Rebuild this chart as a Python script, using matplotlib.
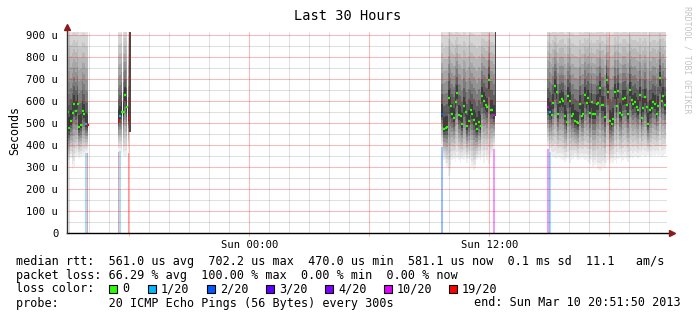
import numpy as np
import matplotlib.pyplot as plt
from matplotlib.patches import Rectangle

W, H = 697, 321
STEP = 5 / 60  # one rrd step (300 s) in hours
MONO = 'DejaVu Sans Mono'

# data segments: start hour (from Sat 14:51:50), median rtt (us), lowest ping (us), lost pings of 20
seg_start = [0.0, 2.545, 18.73, 24.03]
seg_median = [
    [551, 476, 510, 545, 586, 554, 588, 483, 491, 556, 541, 494, 490],
    [514, 532, 551, 551, 627, 574, 524, np.nan],
    [542, 473, 478, 482, 612, 576, 542, 521, 597, 638, 536, 530, 494, 576, 551, 485,
     509, 558, 542, 512, 494, 473, 506, 485, 624, 600, 582, 573, 694, 560, 560, 536, np.nan],
    [573, 551, 536, 590, 668, 642, 542, 597, 609, 600, 533, 503, 624, 600, 533, 539,
     509, 506, 500, 588, 533, 539, 627, 591, 612, 545, 597, 542, 539, 588, 591, 658,
     582, 582, 527, 697, 642, 509, 497, 520, 642, 576, 645, 545, 536, 609, 612, 582,
     542, 652, 606, 588, 597, 575, 560, 627, 524, 570, 618, 573, 494, 560, 567, 597,
     588, 542, 579, 703, 600, 624, 582],
]
seg_low = [
    [335, 330, 340, 290, 300, 345, 350, 340, 345, 352, 350, 362, 365],
    [370, 372, 360, 350, 345, 350, 365, 460],
    [390, 330, 320, 300, 260, 280, 330, 335, 325, 340, 330, 320, 335, 330, 345, 320,
     340, 330, 300, 285, 295, 330, 340, 330, 345, 320, 350, 330, 315, 340, 350, 380, 530],
    [380, 370, 355, 345, 340, 335, 345, 340, 335, 330, 325, 335, 340, 320, 330, 335,
     345, 340, 330, 335, 345, 340, 330, 335, 325, 315, 330, 300, 310, 320, 290, 280,
     285, 300, 295, 320, 330, 315, 325, 320, 330, 315, 335, 340, 325, 330, 340, 335,
     325, 340, 345, 340, 350, 345, 340, 345, 350, 355, 345, 350, 355, 350, 345, 355,
     350, 360, 350, 355, 345, 350, 360],
]
seg_loss = [
    [0] * 11 + [1, 19],
    [19, 1, 0, 0, 0, 0, 19, 0],
    [2] + [0] * 30 + [10, 0],
    [10, 1] + [0] * 69,
]
smoke_top = 1000

loss_levels = [0, 1, 2, 3, 4, 10, 19]
loss_colors = ['#26ff00', '#00b8ff', '#0059ff', '#5e00ff', '#7e00ff', '#dd00ff', '#ff0000']
loss_names = ['0', '1/20', '2/20', '3/20', '4/20', '10/20', '19/20']
loss_box_x = [109, 148, 207, 266, 325, 384, 449]

y_ticks = [0, 100, 200, 300, 400, 500, 600, 700, 800, 900]
y_labels = ['0', '100 u', '200 u', '300 u', '400 u', '500 u', '600 u', '700 u', '800 u', '900 u']
first_hour = 8 / 60 + 10 / 3600   # 15:00 Sat
first_hour_of_day = 15
x_ticks = [9.136, 21.136]
x_labels = ['Sun 00:00', 'Sun 12:00']

legend_lines = [
    'median rtt:  561.0 us avg  702.2 us max  470.0 us min  581.1 us now  0.1 ms sd  11.1   am/s',
    'packet loss: 66.29 % avg  100.00 % max  0.00 % min  0.00 % now',
    'loss color:',
    'probe:       20 ICMP Echo Pings (56 Bytes) every 300s',
]
end_text = 'end: Sun Mar 10 20:51:50 2013'

color_of = dict(zip(loss_levels, loss_colors))
smoke_grays = [240, 227, 213, 199, 184, 167, 147, 124, 96, 62]


def light(hexcol, a=0.4):
    c = np.array([int(hexcol[i:i + 2], 16) for i in (1, 3, 5)]) / 255
    return tuple(1 - a * (1 - c))


fig = plt.figure(figsize=(W / 100, H / 100), dpi=100)
fig.patch.set_facecolor('white')
ax = fig.add_axes([66.6 / W, (H - 233) / H, 600 / W, 201.3 / H])
ax.set_xlim(0, 30)
ax.set_ylim(0, 915)
for s in ax.spines.values():
    s.set_visible(False)

for start, med, lo, loss in zip(seg_start, seg_median, seg_low, seg_loss):
    med = np.array(med, dtype=float)
    lo = np.array(lo, dtype=float)
    loss = np.array(loss)
    t = start + np.arange(len(med)) * STEP
    ok = ~np.isnan(med)
    # smoke: nested bands, outer light -> inner dark
    for j, g in enumerate(smoke_grays):
        f = j / len(smoke_grays)
        bot = lo[ok] + (med[ok] - lo[ok]) * f
        top = smoke_top - (smoke_top - med[ok]) * f
        ax.bar(t[ok], top - bot, bottom=bot, width=STEP, align='edge',
               color='#%02x%02x%02x' % (g, g, g), linewidth=0, antialiased=False, zorder=1)
    ax.bar(t[~ok], smoke_top - lo[~ok], bottom=lo[~ok], width=STEP, align='edge',
           color='#4c4c4c', linewidth=0, antialiased=False, zorder=1)
    # loss bars
    for ti, l, b in zip(t, loss, lo):
        if l > 0:
            ax.bar(ti, b, width=STEP, align='edge', color=light(color_of[l]),
                   linewidth=0, antialiased=False, zorder=1.5)
    # median
    for ti, m, l in zip(t[ok], med[ok], loss[ok]):
        ax.hlines(m, ti, ti + STEP * 1.2, colors=color_of[l], linewidth=1.6, zorder=4)

# grid
for v in range(50, 900, 100):
    ax.axhline(v, color='black', alpha=0.12, linewidth=0.75, zorder=2)
for v in y_ticks[1:]:
    ax.axhline(v, color='red', alpha=0.28, linewidth=0.75, zorder=2)
for k in range(30):
    x = first_hour + k
    if (first_hour_of_day + k) % 6 == 0:
        ax.vlines(x, -12, 915, color='red', alpha=0.28, linewidth=0.75, zorder=2, clip_on=False)
    else:
        ax.vlines(x, 0, 915, color='black', alpha=0.12, linewidth=0.75, zorder=2)

# axes with arrows
ax.plot([0, 30.15], [0, 0], color='black', linewidth=1, zorder=5, clip_on=False)
ax.plot([0, 0], [0, 925], color='#333333', linewidth=1, zorder=5, clip_on=False)
ax.plot(30.25, 0, marker='>', markersize=4.5, color='#8b1a1a', clip_on=False, zorder=6)
ax.plot(0, 935, marker='^', markersize=4.5, color='#8b1a1a', clip_on=False, zorder=6)

ax.set_yticks(y_ticks, y_labels, family=MONO, fontsize=7.6)
ax.set_xticks(x_ticks, x_labels, family=MONO, fontsize=7.6)
ax.tick_params(axis='both', length=0)
ax.tick_params(axis='y', pad=6)
ax.tick_params(axis='x', pad=5)

# texts
fig.text(348 / W, 1 - 16 / H, 'Last 30 Hours', ha='center', va='center', family=MONO, fontsize=9.8)
fig.text(15 / W, 1 - 131 / H, 'Seconds', rotation=90, ha='center', va='center', family=MONO, fontsize=8.4)
fig.text(687 / W, 1 - 60 / H, 'RRDTOOL / TOBI OETIKER', rotation=270, ha='center', va='center',
         family=MONO, fontsize=5.9, color='#c4c4c4')

rows = [261, 275, 289, 303]
for txt, y in zip(legend_lines, rows):
    fig.text(16 / W, 1 - y / H, txt, ha='left', va='center', family=MONO, fontsize=8.5)
fig.text(681 / W, 1 - rows[3] / H, end_text, ha='right', va='center', family=MONO, fontsize=8.5)

for bx, c, name in zip(loss_box_x, loss_colors, loss_names):
    fig.patches.append(Rectangle((bx / W, 1 - (rows[2] + 4) / H), 8 / W, 8 / H,
                                 transform=fig.transFigure, facecolor=c, edgecolor='black',
                                 linewidth=0.8))
    fig.text((bx + 13) / W, 1 - rows[2] / H, name, ha='left', va='center', family=MONO, fontsize=8.5)

fig.savefig('out.png', dpi=100, facecolor='white')
